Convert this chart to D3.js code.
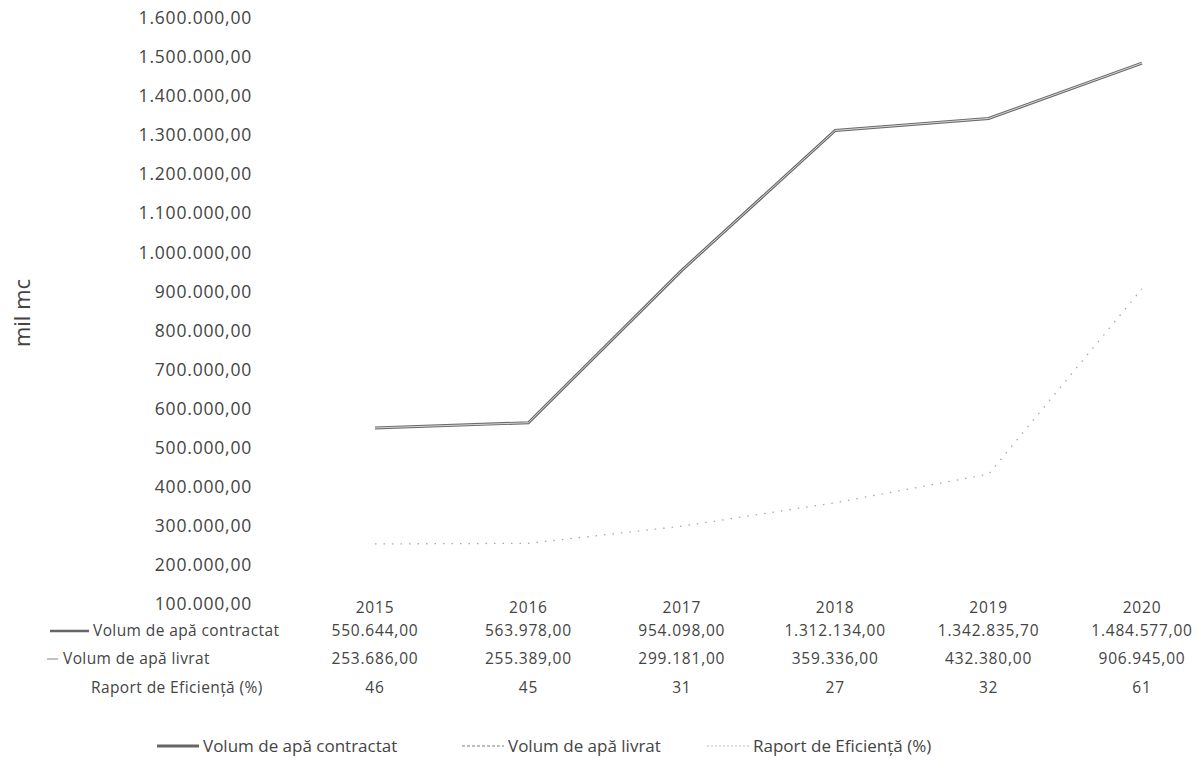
<!DOCTYPE html>
<html>
<head>
<meta charset="utf-8">
<script src="https://cdn.jsdelivr.net/npm/d3@7"></script>
<style>
  body { margin: 0; background: #fff; }
  text { font-family: "Open Sans", sans-serif; fill: #444; }
</style>
</head>
<body>
<script>
var years = ["2015", "2016", "2017", "2018", "2019", "2020"];
var contractat = [550644.00, 563978.00, 954098.00, 1312134.00, 1342835.70, 1484577.00];
var livrat = [253686.00, 255389.00, 299181.00, 359336.00, 432380.00, 906945.00];
var raport = [46, 45, 31, 27, 32, 61];
var seriesNames = ["Volum de apă contractat", "Volum de apă livrat", "Raport de Eficiență (%)"];
var yTicks = d3.range(100000, 1600001, 100000);

var width = 1198,
    height = 775;

var svg = d3.select("body").append("svg")
    .attr("width", width)
    .attr("height", height);

var fmtNum = function (v, dec) {
    var s = d3.format(",." + dec + "f")(v);
    return s.replace(/,/g, "#").replace(/\./g, ",").replace(/#/g, ".");
};

var xScale = d3.scalePoint().domain(years).range([375, 1142]);
var yScale = d3.scaleLinear().domain([100000, 1600000]).range([604, 18]);

// y axis, labels only
var yAxis = d3.axisLeft(yScale)
    .tickValues(yTicks)
    .tickSize(0)
    .tickPadding(0)
    .tickFormat(function (d) { return fmtNum(d, 2); });

var gy = svg.append("g")
    .attr("transform", "translate(252,0)")
    .call(yAxis);
gy.select(".domain").remove();
gy.selectAll("text")
    .style("font-size", "17.5px")
    .style("letter-spacing", "0.8px")
    .style("font-family", "Open Sans, sans-serif")
    .attr("fill", "#444");

svg.append("text")
    .attr("transform", "translate(30,313) rotate(-90)")
    .attr("text-anchor", "middle")
    .style("font-size", "22px")
    .text("mil mc");

svg.append("defs").append("clipPath")
    .attr("id", "plot")
    .append("rect")
    .attr("x", 260).attr("y", 0)
    .attr("width", 938).attr("height", 606);

var line = d3.line()
    .x(function (d, i) { return xScale(years[i]); })
    .y(function (d) { return yScale(d); });

var plot = svg.append("g").attr("clip-path", "url(#plot)");

plot.append("path")
    .attr("d", line(livrat))
    .style("fill", "none")
    .style("stroke", "#a8a8a8")
    .style("stroke-width", 1.3)
    .style("stroke-dasharray", "1.5,7");

plot.append("path")
    .attr("d", line(raport))
    .style("fill", "none")
    .style("stroke", "#bbb")
    .style("stroke-width", 1)
    .style("stroke-dasharray", "2,3");

plot.append("path")
    .attr("d", line(contractat))
    .style("fill", "none")
    .style("stroke", "#6a6a6a")
    .style("stroke-width", 3);
plot.append("path")
    .attr("d", line(contractat))
    .style("fill", "none")
    .style("stroke", "#d8d8d8")
    .style("stroke-width", 1);

// data table
var table = svg.append("g");
var cellSize = "15.5px";

table.selectAll(".yr")
    .data(years)
    .enter()
    .append("text")
    .attr("class", "yr")
    .attr("x", function (d) { return xScale(d); })
    .attr("y", 613)
    .attr("text-anchor", "middle")
    .style("font-size", cellSize)
    .style("letter-spacing", "0.8px")
    .text(function (d) { return d; });

var rows = [
    {name: seriesNames[0], vals: contractat.map(function (v) { return fmtNum(v, 2); }), y: 636, hx: 93},
    {name: seriesNames[1], vals: livrat.map(function (v) { return fmtNum(v, 2); }), y: 664, hx: 63},
    {name: seriesNames[2], vals: raport.map(function (v) { return String(v); }), y: 693, hx: 91}
];

rows.forEach(function (r, ri) {
    table.append("text")
        .attr("x", r.hx)
        .attr("y", r.y)
        .style("font-size", "15.5px")
        .style("letter-spacing", "0.4px")
        .text(r.name);
    table.selectAll(".v" + ri)
        .data(r.vals)
        .enter()
        .append("text")
        .attr("class", "v" + ri)
        .attr("x", function (d, i) { return xScale(years[i]); })
        .attr("y", r.y)
        .attr("text-anchor", "middle")
        .style("font-size", cellSize)
        .style("letter-spacing", "0.8px")
        .text(function (d) { return d; });
});

// row keys
table.append("line")
    .attr("x1", 50).attr("x2", 89).attr("y1", 631).attr("y2", 631)
    .style("stroke", "#666").style("stroke-width", 2.5);
table.append("line")
    .attr("x1", 47).attr("x2", 58).attr("y1", 659).attr("y2", 659)
    .style("stroke", "#999").style("stroke-width", 1.2);

// legend
var legend = [
    {name: seriesNames[0], x: 157, stroke: "#666", w: 3, dash: null},
    {name: seriesNames[1], x: 462, stroke: "#aaa", w: 1.5, dash: "3,2"},
    {name: seriesNames[2], x: 707, stroke: "#bbb", w: 1.2, dash: "2,2"}
];
var lg = svg.append("g").selectAll("g")
    .data(legend)
    .enter()
    .append("g")
    .attr("transform", function (d) { return "translate(" + d.x + ",746)"; });
lg.append("line")
    .attr("x1", 0).attr("x2", 42).attr("y1", 0).attr("y2", 0)
    .style("stroke", function (d) { return d.stroke; })
    .style("stroke-width", function (d) { return d.w; })
    .style("stroke-dasharray", function (d) { return d.dash; });
lg.append("text")
    .attr("x", 46)
    .attr("y", 6)
    .style("font-size", "17px")
    .text(function (d) { return d.name; });
</script>
</body>
</html>
